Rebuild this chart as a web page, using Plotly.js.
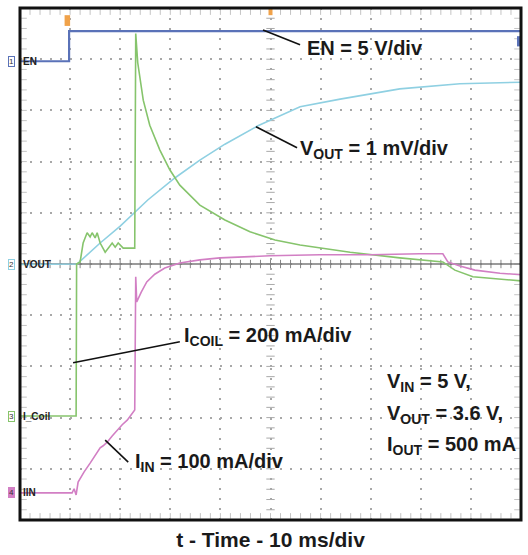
<!DOCTYPE html>
<html>
<head>
<meta charset="utf-8">
<script src="https://cdn.plot.ly/plotly-3.0.1.min.js"></script>
<style>
  html, body { margin: 0; padding: 0; background: #ffffff; }
  #plot { width: 528px; height: 555px; }
</style>
</head>
<body>
<div id="plot"></div>
<script>
// Start-up capture: time in ms (10 ms/div), levels in screen divisions (0 = bottom).
const enTime = [0, 9.8, 9.8, 100];
const enLevel = [8.96, 8.96, 9.55, 9.55];

const voutTime = [0, 11.4, 16.0, 20.0, 25.5, 30.9, 35.9, 40.9, 47.5, 55.9, 63.9, 75.8, 87.8, 100];
const voutLevel = [4.99, 5.00, 5.41, 5.74, 6.25, 6.68, 7.03, 7.34, 7.70, 8.07, 8.22, 8.42, 8.52, 8.55];

const coilTime = [0, 11.2, 11.3, 12.0, 12.6, 13.4, 14.0, 14.4, 15.0, 15.4, 16.0, 17.0, 18.4, 19.0, 19.6,
  20.6, 22.0, 22.9, 23.1, 23.5, 24.6, 25.9, 27.9, 29.9, 31.9, 35.9, 40.9, 45.9, 50.9, 55.9, 65.9,
  75.8, 84.4, 86.8, 90.4, 95.8, 100];
const coilLevel = [2.03, 2.03, 5.00, 5.04, 5.41, 5.61, 5.53, 5.61, 5.51, 5.61, 5.41, 5.23, 5.41, 5.33, 5.41,
  5.31, 5.31, 5.31, 9.50, 8.93, 8.20, 7.71, 7.23, 6.84, 6.54, 6.15, 5.86, 5.63, 5.47, 5.37, 5.23,
  5.12, 5.04, 4.88, 4.75, 4.71, 4.67];

const iinTime = [0, 10.4, 10.8, 11.2, 11.6, 12.8, 14.0, 15.0, 16.0, 16.6, 17.4, 18.4, 19.4, 20.4, 21.4,
  22.2, 22.9, 23.1, 23.3, 24.2, 25.3, 26.9, 28.9, 31.9, 35.9, 39.9, 49.9, 59.9, 69.9, 79.8, 84.4,
  85.4, 87.8, 90.8, 95.8, 100];
const iinLevel = [0.53, 0.53, 0.61, 0.49, 0.74, 0.94, 1.11, 1.25, 1.41, 1.45, 1.52, 1.64, 1.76, 1.86, 1.95,
  2.05, 2.15, 4.75, 4.26, 4.45, 4.65, 4.80, 4.92, 5.02, 5.08, 5.12, 5.16, 5.18, 5.18, 5.20, 5.20,
  5.04, 4.96, 4.88, 4.82, 4.79];

const channelNames = ['EN', 'VOUT', 'I_Coil', 'IIN'];
const channelLevels = [8.96, 5.0, 2.03, 0.53];
const channelColors = ['#5a72b8', '#8fd0e2', '#86c46c', '#d27fc4'];

const labelFont = {family: 'Liberation Sans, Arial, sans-serif', size: 20, color: '#1a1a1a', weight: 'bold'};

// graticule minor ticks (every 0.2 div): centre cross and frame edges
const hTickX = [], hTickY = [], vTickX = [], vTickY = [];
const edgeX = [], edgeY = [], edgeVX = [], edgeVY = [];
for (let i = 0; i <= 50; i++) {
  hTickX.push(i * 2); hTickY.push(5);
  vTickX.push(50); vTickY.push(i * 0.2);
  edgeX.push(i * 2, i * 2); edgeY.push(0.08, 9.92);
  edgeVX.push(0.8, 99.2); edgeVY.push(i * 0.2, i * 0.2);
}

const traces = [
  {x: edgeX, y: edgeY, mode: 'markers', hoverinfo: 'skip',
   marker: {symbol: 'line-ns', size: 4, line: {width: 1, color: '#c4c4c4'}}},
  {x: edgeVX, y: edgeVY, mode: 'markers', hoverinfo: 'skip',
   marker: {symbol: 'line-ew', size: 4, line: {width: 1, color: '#c4c4c4'}}},
  {x: hTickX, y: hTickY, mode: 'markers', hoverinfo: 'skip',
   marker: {symbol: 'line-ns', size: 6, line: {width: 1, color: '#888'}}},
  {x: vTickX, y: vTickY, mode: 'markers', hoverinfo: 'skip',
   marker: {symbol: 'line-ew', size: 6, line: {width: 1, color: '#aaa'}}},
  {x: [0, 100], y: [5, 5], mode: 'lines', hoverinfo: 'skip', line: {color: '#7a7a7a', width: 1.5}},
  {x: voutTime, y: voutLevel, mode: 'lines', name: 'VOUT', line: {color: channelColors[1], width: 1.6}},
  {x: coilTime, y: coilLevel, mode: 'lines', name: 'I_Coil', line: {color: channelColors[2], width: 1.6}},
  {x: iinTime, y: iinLevel, mode: 'lines', name: 'IIN', line: {color: channelColors[3], width: 1.6}},
  {x: enTime, y: enLevel, mode: 'lines', name: 'EN', line: {color: channelColors[0], width: 2.2}}
];

const lineShape = (x0, y0, x1, y1) => ({type: 'line', xref: 'x', yref: 'y', x0, y0, x1, y1,
  line: {color: '#111', width: 1.6}});

const shapes = [
  lineShape(48.5, 9.57, 55.9, 9.28),
  lineShape(47.1, 7.68, 55.3, 7.27),
  lineShape(10.6, 3.07, 31.9, 3.48),
  lineShape(17.0, 1.56, 21.6, 1.13),
  // trigger markers
  {type: 'rect', xref: 'x', yref: 'y', x0: 8.9, x1: 10.0, y0: 9.65, y1: 9.86,
   fillcolor: '#f0a24a', line: {width: 0}},
  {type: 'rect', xref: 'x', yref: 'y', x0: 49.6, x1: 50.4, y0: 9.86, y1: 9.98,
   fillcolor: '#f0a24a', line: {width: 0}},
  {type: 'rect', xref: 'x', yref: 'y', x0: 99.2, x1: 99.8, y0: 9.25, y1: 9.45,
   fillcolor: '#5a72b8', line: {width: 0}},
  // frame
  {type: 'rect', xref: 'paper', yref: 'paper', x0: 0, x1: 1, y0: 0, y1: 1,
   line: {color: '#111', width: 3}}
];

const annotations = [
  {x: 56.9, y: 9.22, text: 'EN = 5 V/div'},
  {x: 55.5, y: 7.23, text: 'V<sub>OUT</sub> = 1 mV/div'},
  {x: 32.3, y: 3.59, text: 'I<sub>COIL</sub> = 200 mA/div'},
  {x: 72.9, y: 2.68, text: 'V<sub>IN</sub> = 5 V,'},
  {x: 72.9, y: 2.07, text: 'V<sub>OUT</sub> = 3.6 V,'},
  {x: 72.9, y: 1.45, text: 'I<sub>OUT</sub> = 500 mA'},
  {x: 22.6, y: 1.13, text: 'I<sub>IN</sub> = 100 mA/div'}
].map(a => Object.assign({xref: 'x', yref: 'y', xanchor: 'left', yanchor: 'middle',
  showarrow: false, font: labelFont}, a));

// channel reference markers on the left edge
channelNames.forEach((name, i) => {
  annotations.push({xref: 'paper', yref: 'paper', x: -0.017, y: channelLevels[i] / 10, text: String(i + 1),
    showarrow: false, xanchor: 'center', yanchor: 'middle', bgcolor: i === 3 ? channelColors[i] : '#ffffff',
    bordercolor: channelColors[i], borderwidth: 1, borderpad: 0,
    font: {family: 'Liberation Sans, Arial', size: 8, color: '#333'}});
  annotations.push({xref: 'paper', yref: 'paper', x: 0.002, y: channelLevels[i] / 10, text: name,
    showarrow: false, xanchor: 'left', yanchor: 'middle',
    font: {family: 'Liberation Sans Narrow, Liberation Sans, Arial', size: 10, color: '#222', weight: 'bold'}});
});

const layout = {
  width: 528, height: 555,
  margin: {l: 20, r: 7, t: 8, b: 35},
  paper_bgcolor: '#ffffff', plot_bgcolor: '#ffffff',
  showlegend: false,
  xaxis: {
    range: [0, 100], dtick: 10, showgrid: true, gridcolor: '#a8a8a8', gridwidth: 2,
    griddash: '2px,8px', zeroline: false, showticklabels: false, ticks: '', showline: false,
    fixedrange: true,
    title: {text: 't - Time - 10 ms/div', standoff: 12,
      font: {family: 'Liberation Sans, Arial, sans-serif', size: 21, color: '#1a1a1a', weight: 'bold'}}
  },
  yaxis: {
    range: [0, 10], dtick: 1, showgrid: true, gridcolor: '#a8a8a8', gridwidth: 2,
    griddash: '2px,8px', zeroline: false, showticklabels: false, ticks: '', showline: false,
    fixedrange: true
  },
  shapes: shapes,
  annotations: annotations
};

Plotly.newPlot('plot', traces, layout, {displayModeBar: false, staticPlot: true});
</script>
</body>
</html>
